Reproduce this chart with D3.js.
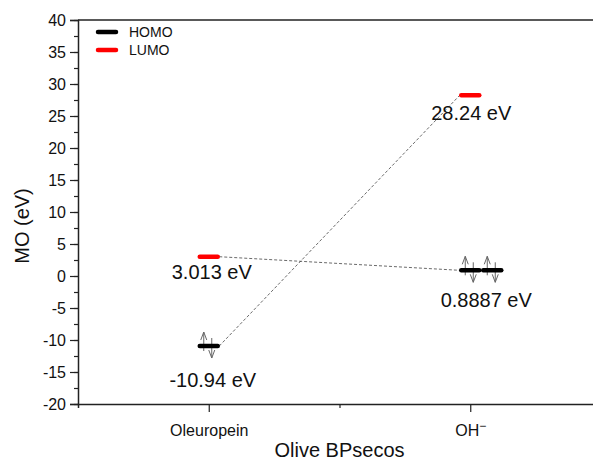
<!DOCTYPE html>
<html>
<head>
<meta charset="utf-8">
<script src="https://cdn.jsdelivr.net/npm/d3@7"></script>
<style>
  body { margin: 0; background: #fff; }
  svg { display: block; font-family: Arial, "Liberation Sans", sans-serif; }
</style>
</head>
<body>
<svg width="593" height="463"></svg>
<script>
// data
var categories = ["Oleuropein", "OH"];
var homo = [-10.94, 0.8887];
var lumo = [3.013, 28.24];
var homoCount = [1, 2];          // degenerate HOMO levels drawn side by side
var homoText = ["-10.94 eV", "0.8887 eV"];
var lumoText = ["3.013 eV", "28.24 eV"];
var yTicks = [-20, -15, -10, -5, 0, 5, 10, 15, 20, 25, 30, 35, 40];

// layout
var W = 593, H = 463;
var m = { left: 78, top: 20, right: -8, bottom: 59 };
var halfW = 10.5;
// label nudges (dx, dy) relative to the level
var homoLab = [[4, 41], [16, 37]];
var lumoLab = [[3, 22], [1, 25]];

var svg = d3.select("svg");

var x = d3.scaleLinear().domain([0.5, 2.5]).range([m.left, W - m.right]);
var y = d3.scaleLinear().domain([-20, 40]).range([H - m.bottom, m.top]);

var axisCol = "#222";

// frame top / right lines
svg.append("line")
  .attr("x1", x(0.5)).attr("x2", x(2.5))
  .attr("y1", y(40)).attr("y2", y(40))
  .attr("stroke", axisCol).attr("stroke-width", 1.5);
svg.append("line")
  .attr("x1", x(2.5)).attr("x2", x(2.5))
  .attr("y1", y(40)).attr("y2", y(-20))
  .attr("stroke", axisCol).attr("stroke-width", 1.5);

// y axis
var gy = svg.append("g").attr("transform", `translate(${m.left},0)`);
gy.call(d3.axisLeft(y).tickValues(d3.range(-20, 40.1, 2.5)).tickSize(4).tickFormat(""));
gy.call(g => g.selectAll(".tick line").attr("stroke", axisCol).attr("stroke-width", 1.2));
var gy2 = svg.append("g").attr("transform", `translate(${m.left},0)`);
gy2.call(d3.axisLeft(y).tickValues(yTicks).tickSize(8).tickPadding(4).tickFormat(d => String(d)));
gy2.selectAll(".domain").attr("stroke", axisCol).attr("stroke-width", 1.5);
gy2.selectAll(".tick line").attr("stroke", axisCol).attr("stroke-width", 1.2);
gy2.selectAll(".tick text").attr("font-size", 16).attr("fill", "#111")
  .attr("font-family", "Arial, 'Liberation Sans', sans-serif");

// x axis
var gx = svg.append("g").attr("transform", `translate(0,${y(-20)})`);
gx.call(d3.axisBottom(x).tickValues([1.5]).tickSize(4).tickFormat(""));
gx.selectAll(".domain").attr("stroke", axisCol).attr("stroke-width", 1.5);
gx.selectAll(".tick line").attr("stroke", axisCol).attr("stroke-width", 1.2);
var gx2 = svg.append("g").attr("transform", `translate(0,${y(-20)})`);
gx2.call(d3.axisBottom(x).tickValues([1, 2]).tickSize(8).tickPadding(7).tickFormat(""));
gx2.select(".domain").remove();
gx2.selectAll(".tick line").attr("stroke", axisCol).attr("stroke-width", 1.2);

var catLab = gx2.selectAll(".tick text")
  .attr("font-size", 16).attr("fill", "#111")
  .attr("font-family", "Arial, 'Liberation Sans', sans-serif")
  .attr("dy", "1.05em")
  .text((d, i) => categories[i]);
catLab.filter((d, i) => i === 1)
  .append("tspan").attr("dy", "-0.45em").attr("font-size", 12).text("\u2212");

// axis titles
svg.append("text")
  .attr("transform", `translate(29,${226}) rotate(-90)`)
  .attr("text-anchor", "middle").attr("font-size", 20).attr("fill", "#111")
  .text("MO (eV)");
svg.append("text")
  .attr("x", x(1.5)).attr("y", 457)
  .attr("text-anchor", "middle").attr("font-size", 20).attr("fill", "#111")
  .text("Olive BPsecos");

// dashed connectors
var links = [
  { x1: x(1) + halfW, y1: y(lumo[0]), x2: x(2) - halfW, y2: y(homo[1]) },
  { x1: x(1) + halfW, y1: y(homo[0]), x2: x(2) - halfW, y2: y(lumo[1]) }
];
svg.selectAll(".link").data(links).enter().append("line")
  .attr("class", "link")
  .attr("x1", d => d.x1).attr("y1", d => d.y1)
  .attr("x2", d => d.x2).attr("y2", d => d.y2)
  .attr("stroke", "#444").attr("stroke-width", 0.8)
  .attr("stroke-dasharray", "3,2");

// levels
function levelBar(cx, cy, col) {
  svg.append("line")
    .attr("x1", cx - halfW + 1.5).attr("x2", cx + halfW - 1.5)
    .attr("y1", cy).attr("y2", cy)
    .attr("stroke", col).attr("stroke-width", 4.5)
    .attr("stroke-linecap", "round");
}

// electron pair arrows
function electrons(cx, cy) {
  var g = svg.append("g").attr("stroke", "#666").attr("stroke-width", 1).attr("fill", "none");
  var ux = cx - 5, dx = cx + 3;
  g.append("line").attr("x1", ux).attr("x2", ux).attr("y1", cy + 5).attr("y2", cy - 14);
  g.append("polyline").attr("points", `${ux - 3},${cy - 6} ${ux},${cy - 14} ${ux + 3},${cy - 6}`);
  g.append("line").attr("x1", dx).attr("x2", dx).attr("y1", cy - 8).attr("y2", cy + 12);
  g.append("polyline").attr("points", `${dx - 3},${cy + 4} ${dx},${cy + 12} ${dx + 3},${cy + 4}`);
}

categories.forEach(function (c, i) {
  var cx = x(i + 1);
  for (var k = 0; k < homoCount[i]; k++) {
    var hx = cx + k * 2 * (halfW + 0.5);
    electrons(hx, y(homo[i]));
    levelBar(hx, y(homo[i]), "#000");
  }
  levelBar(cx, y(lumo[i]), "#f00");

  svg.append("text")
    .attr("x", cx + homoLab[i][0]).attr("y", y(homo[i]) + homoLab[i][1])
    .attr("text-anchor", "middle").attr("font-size", 20).attr("fill", "#111")
    .text(homoText[i]);
  svg.append("text")
    .attr("x", cx + lumoLab[i][0]).attr("y", y(lumo[i]) + lumoLab[i][1])
    .attr("text-anchor", "middle").attr("font-size", 20).attr("fill", "#111")
    .text(lumoText[i]);
});

// legend
var legend = [["HOMO", "#000"], ["LUMO", "#f00"]];
legend.forEach(function (d, i) {
  var ly = 32 + i * 18;
  svg.append("line")
    .attr("x1", 98).attr("x2", 116).attr("y1", ly).attr("y2", ly)
    .attr("stroke", d[1]).attr("stroke-width", 4.5).attr("stroke-linecap", "round");
  svg.append("text")
    .attr("x", 129).attr("y", ly + 5)
    .attr("font-size", 14).attr("fill", "#111")
    .text(d[0]);
});
</script>
</body>
</html>
